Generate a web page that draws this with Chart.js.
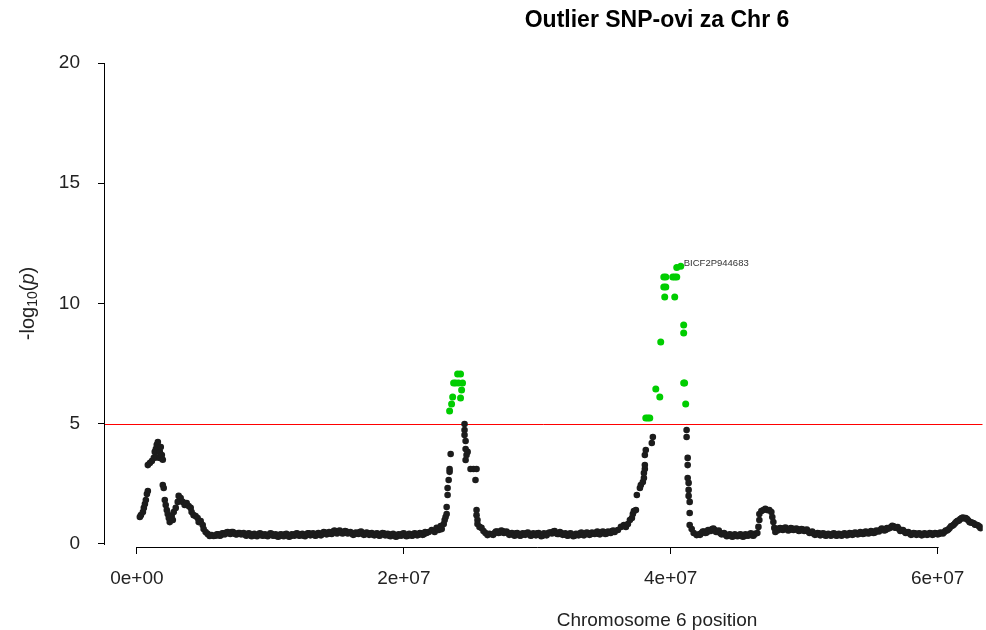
<!DOCTYPE html>
<html>
<head>
<meta charset="utf-8">
<title>Outlier SNP-ovi za Chr 6</title>
<script src="https://cdn.jsdelivr.net/npm/chart.js@4.4.1/dist/chart.umd.min.js"></script>
<style>
  html, body { margin: 0; padding: 0; background: #fff; }
  #wrap { width: 986px; height: 630px; }
</style>
</head>
<body>
<div id="wrap"><canvas id="manhattan" width="986" height="630"></canvas></div>
<script>
// positions in Mb along chromosome 6, values are -log10(p)
const blackPos = [
  0.22, 0.30, 0.45, 0.52, 0.60, 0.67, 0.75, 0.82, 0.82, 0.97,
  1.12, 1.27, 1.34, 1.42, 1.49, 1.49, 1.57, 1.64, 1.72, 1.72,
  1.79, 1.87, 1.94, 1.94, 2.01, 2.09, 2.16, 2.24, 2.31, 2.39,
  2.46, 2.54, 2.61, 2.69, 2.76, 2.91, 3.06, 3.13, 3.28, 3.43,
  3.58, 3.73, 3.88, 4.03, 4.10, 4.25, 4.40, 4.55, 4.63, 4.78,
  4.93, 5.00, 5.15, 5.30, 5.45, 5.60, 5.75,
  5.9, 6.1, 6.3, 6.5, 6.7, 6.9, 7.1, 7.3, 7.5, 7.7,
  7.9, 8.1, 8.3, 8.5, 8.7, 8.9, 9.1, 9.3, 9.5, 9.7,
  9.9, 10.1, 10.3, 10.5, 10.7, 10.9, 11.1, 11.3, 11.5, 11.7,
  11.9, 12.1, 12.3, 12.5, 12.7, 12.9, 13.1, 13.3, 13.5, 13.7,
  13.9, 14.1, 14.3, 14.5, 14.7, 14.9, 15.1, 15.3, 15.5, 15.7,
  15.9, 16.1, 16.3, 16.5, 16.7, 16.9, 17.1, 17.3, 17.5, 17.7,
  17.9, 18.1, 18.3, 18.5, 18.7, 18.9, 19.1, 19.3, 19.5, 19.7,
  19.9, 20.1, 20.3, 20.5, 20.7, 20.9, 21.1, 21.3, 21.5, 21.7,
  21.87, 22.09, 22.31, 22.46, 22.61, 22.76, 22.84, 22.99, 23.06, 23.13,
  23.21, 23.21, 23.28, 23.28, 23.36, 23.43, 23.43, 23.51, 24.55, 24.55,
  24.55, 24.63, 24.63, 24.63, 24.70, 24.78, 25.00, 25.22, 25.37, 25.45,
  25.45, 25.45, 25.52, 25.52, 25.67, 25.82, 25.97, 26.12, 26.27, 26.42,
  26.6, 26.8, 27.0, 27.2, 27.4, 27.6, 27.8, 28.0, 28.2, 28.4,
  28.6, 28.8, 29.0, 29.2, 29.4, 29.6, 29.8, 30.0, 30.2, 30.4,
  30.6, 30.8, 31.0, 31.2, 31.4, 31.6, 31.8, 32.0, 32.2, 32.4,
  32.6, 32.8, 33.0, 33.2, 33.4, 33.6, 33.8, 34.0, 34.2, 34.4,
  34.6, 34.8, 35.0, 35.2, 35.4, 35.6, 35.8,
  36.04, 36.27, 36.49, 36.64, 36.79, 36.94, 37.09, 37.16, 37.24, 37.39,
  37.46, 37.69, 37.76, 37.91, 37.99, 37.99, 38.06, 38.06, 38.06, 38.13,
  38.58, 38.66, 41.19, 41.19, 41.27, 41.27, 41.27, 41.34, 41.34, 41.34,
  41.42, 41.42, 41.42, 41.57, 41.72, 41.94,
  42.1, 42.3, 42.5, 42.7, 42.9, 43.1, 43.3, 43.5, 43.7, 43.9,
  44.1, 44.3, 44.5, 44.7, 44.9, 45.1, 45.3, 45.5, 45.7, 45.9,
  46.1, 46.3,
  46.49, 46.57, 46.64, 46.64, 46.79, 46.94, 47.09, 47.24, 47.39, 47.54,
  47.61, 47.69, 47.76, 47.84,
  47.9, 48.1, 48.3, 48.5, 48.7, 48.9, 49.1, 49.3, 49.5, 49.7,
  49.9, 50.1, 50.3, 50.5, 50.7, 50.9, 51.1, 51.3, 51.5, 51.7,
  51.9, 52.1, 52.3, 52.5, 52.7, 52.9, 53.1, 53.3, 53.5, 53.7,
  53.9, 54.1, 54.3, 54.5, 54.7, 54.9, 55.1, 55.3, 55.5, 55.7,
  55.9, 56.1, 56.3, 56.5, 56.7, 56.9, 57.1, 57.3, 57.5, 57.7,
  57.9, 58.1, 58.3, 58.5, 58.7, 58.9, 59.1, 59.3, 59.5, 59.7,
  59.9, 60.1, 60.3, 60.5, 60.7, 60.9, 61.1, 61.3, 61.5, 61.7,
  61.9, 62.1, 62.3, 62.5, 62.7, 62.9, 63.1, 63.3,
  // in-between SNPs on the flat stretches
  6.0, 6.2, 6.4, 6.6, 6.8, 7.0, 7.2, 7.4, 7.6, 7.8,
  8.0, 8.2, 8.4, 8.6, 8.8, 9.0, 9.2, 9.4, 9.6, 9.8,
  10.0, 10.2, 10.4, 10.6, 10.8, 11.0, 11.2, 11.4, 11.6, 11.8,
  12.0, 12.2, 12.4, 12.6, 12.8, 13.0, 13.2, 13.4, 13.6, 13.8,
  14.0, 14.2, 14.4, 14.6, 14.8, 15.0, 15.2, 15.4, 15.6, 15.8,
  16.0, 16.2, 16.4, 16.6, 16.8, 17.0, 17.2, 17.4, 17.6, 17.8,
  18.0, 18.2, 18.4, 18.6, 18.8, 19.0, 19.2, 19.4, 19.6, 19.8,
  20.0, 20.2, 20.4, 20.6, 20.8, 21.0, 21.2, 21.4, 21.6,
  26.7, 26.9, 27.1, 27.3, 27.5, 27.7, 27.9, 28.1, 28.3, 28.5,
  28.7, 28.9, 29.1, 29.3, 29.5, 29.7, 29.9, 30.1, 30.3, 30.5,
  30.7, 30.9, 31.1, 31.3, 31.5, 31.7, 31.9, 32.1, 32.3, 32.5,
  32.7, 32.9, 33.1, 33.3, 33.5, 33.7, 33.9, 34.1, 34.3, 34.5,
  34.7, 34.9, 35.1, 35.3, 35.5, 35.7,
  42.2, 42.4, 42.6, 42.8, 43.0, 43.2, 43.4, 43.6, 43.8, 44.0,
  44.2, 44.4, 44.6, 44.8, 45.0, 45.2, 45.4, 45.6, 45.8, 46.0,
  46.2,
  48.0, 48.2, 48.4, 48.6, 48.8, 49.0, 49.2, 49.4, 49.6, 49.8,
  50.0, 50.2, 50.4, 50.6, 50.8, 51.0, 51.2, 51.4, 51.6, 51.8,
  52.0, 52.2, 52.4, 52.6, 52.8, 53.0, 53.2, 53.4, 53.6, 53.8,
  54.0, 54.2, 54.4, 54.6, 54.8, 55.0, 55.2, 55.4, 55.6, 55.8,
  56.0, 56.2, 56.4, 56.6, 56.8, 57.0, 57.2, 57.4, 57.6, 57.8,
  58.0, 58.2, 58.4, 58.6, 58.8, 59.0, 59.2, 59.4, 59.6, 59.8,
  60.0, 60.2, 60.4, 60.6, 60.8, 61.0, 61.2, 61.4, 61.6, 61.8,
  62.0, 62.2, 62.4, 62.6, 62.8, 63.0, 63.2
];
const blackLogP = [
  1.12, 1.20, 1.33, 1.50, 1.66, 1.83, 2.08, 2.20, 3.28, 3.37,
  3.45, 3.58, 3.83, 3.95, 4.12, 3.60, 4.24, 4.00, 3.83, 3.58,
  4.03, 3.70, 3.50, 2.45, 2.33, 1.83, 1.62, 1.41, 1.25, 1.08,
  0.91, 1.00, 1.16, 1.00, 1.33, 1.50, 1.75, 2.00, 1.91, 1.75,
  1.62, 1.70, 1.58, 1.50, 1.33, 1.20, 1.16, 1.08, 0.91, 0.95,
  0.79, 0.62, 0.50, 0.42, 0.33, 0.37, 0.33,
  0.34, 0.40, 0.36, 0.44, 0.48, 0.46, 0.50, 0.44, 0.40, 0.46,
  0.42, 0.38, 0.42, 0.36, 0.40, 0.34, 0.38, 0.42, 0.36, 0.34,
  0.38, 0.42, 0.36, 0.32, 0.38, 0.34, 0.40, 0.36, 0.32, 0.38,
  0.42, 0.36, 0.40, 0.34, 0.38, 0.44, 0.40, 0.36, 0.42, 0.38,
  0.44, 0.48, 0.42, 0.46, 0.52, 0.48, 0.54, 0.50, 0.46, 0.52,
  0.48, 0.44, 0.40, 0.46, 0.50, 0.44, 0.40, 0.46, 0.42, 0.38,
  0.42, 0.36, 0.40, 0.44, 0.38, 0.34, 0.40, 0.36, 0.32, 0.38,
  0.42, 0.36, 0.34, 0.40, 0.36, 0.42, 0.38, 0.44, 0.40, 0.46,
  0.50, 0.58, 0.50, 0.67, 0.58, 0.75, 0.62, 0.83, 1.00, 1.12,
  1.25, 1.54, 2.04, 2.33, 2.66, 3.00, 3.12, 3.74, 4.99, 4.74,
  4.53, 4.28, 3.95, 3.49, 3.70, 3.83, 3.12, 3.12, 2.66, 3.12,
  1.41, 1.20, 1.00, 0.83, 0.71, 0.67, 0.54, 0.46, 0.37, 0.42,
  0.40, 0.46, 0.52, 0.48, 0.54, 0.50, 0.46, 0.42, 0.38, 0.44,
  0.40, 0.36, 0.42, 0.46, 0.40, 0.36, 0.40, 0.44, 0.38, 0.34,
  0.40, 0.44, 0.48, 0.52, 0.46, 0.42, 0.46, 0.40, 0.36, 0.42,
  0.38, 0.34, 0.40, 0.44, 0.38, 0.42, 0.46, 0.40, 0.44, 0.48,
  0.42, 0.46, 0.50, 0.44, 0.48, 0.54, 0.50,
  0.58, 0.71, 0.79, 0.71, 0.83, 1.00, 1.08, 1.25, 1.37, 1.41,
  2.04, 2.33, 2.45, 2.58, 2.74, 2.95, 3.12, 3.28, 3.70, 3.91,
  4.20, 4.45, 4.74, 4.45, 3.58, 3.28, 2.74, 2.54, 2.25, 2.00,
  1.75, 1.29, 0.79, 0.62, 0.46, 0.37,
  0.40, 0.46, 0.52, 0.48, 0.56, 0.62, 0.58, 0.52, 0.46, 0.42,
  0.38, 0.34, 0.38, 0.32, 0.36, 0.34, 0.38, 0.32, 0.36, 0.40,
  0.36, 0.42,
  0.46, 0.71, 1.00, 1.25, 1.37, 1.41, 1.46, 1.41, 1.41, 1.33,
  1.12, 0.91, 0.67, 0.50,
  0.58, 0.64, 0.60, 0.66, 0.62, 0.58, 0.64, 0.60, 0.62, 0.56,
  0.60, 0.58, 0.52, 0.48, 0.44, 0.40, 0.44, 0.38, 0.42, 0.36,
  0.40, 0.38, 0.42, 0.36, 0.40, 0.38, 0.42, 0.38, 0.44, 0.40,
  0.46, 0.42, 0.48, 0.44, 0.50, 0.46, 0.52, 0.48, 0.54, 0.58,
  0.62, 0.58, 0.64, 0.70, 0.74, 0.68, 0.62, 0.56, 0.52, 0.48,
  0.44, 0.40, 0.44, 0.40, 0.42, 0.38, 0.42, 0.40, 0.44, 0.40,
  0.44, 0.42, 0.46, 0.50, 0.56, 0.66, 0.76, 0.86, 0.96, 1.04,
  1.10, 1.08, 0.98, 0.90, 0.86, 0.80, 0.74, 0.68,
  0.40, 0.34, 0.44, 0.40, 0.50, 0.42, 0.50, 0.40, 0.46, 0.40,
  0.46, 0.34, 0.44, 0.32, 0.42, 0.32, 0.44, 0.34, 0.40, 0.32,
  0.44, 0.34, 0.40, 0.30, 0.40, 0.32, 0.42, 0.30, 0.40, 0.34,
  0.44, 0.34, 0.42, 0.32, 0.44, 0.36, 0.44, 0.34, 0.46, 0.36,
  0.50, 0.40, 0.50, 0.42, 0.56, 0.44, 0.56, 0.44, 0.54, 0.44,
  0.50, 0.38, 0.48, 0.42, 0.52, 0.38, 0.48, 0.38, 0.46, 0.36,
  0.44, 0.34, 0.46, 0.36, 0.42, 0.32, 0.42, 0.30, 0.40, 0.34,
  0.44, 0.32, 0.42, 0.34, 0.44, 0.36, 0.46, 0.38, 0.50,
  0.38, 0.52, 0.46, 0.56, 0.46, 0.52, 0.38, 0.46, 0.34, 0.46,
  0.34, 0.44, 0.38, 0.48, 0.34, 0.44, 0.36, 0.46, 0.32, 0.44,
  0.36, 0.48, 0.44, 0.54, 0.42, 0.50, 0.38, 0.44, 0.34, 0.44,
  0.32, 0.42, 0.36, 0.48, 0.36, 0.48, 0.38, 0.48, 0.42, 0.52,
  0.40, 0.52, 0.42, 0.52, 0.46, 0.56,
  0.38, 0.52, 0.46, 0.58, 0.54, 0.64, 0.50, 0.56, 0.40, 0.46,
  0.32, 0.40, 0.30, 0.40, 0.32, 0.40, 0.30, 0.40, 0.34, 0.44,
  0.34,
  0.56, 0.66, 0.58, 0.68, 0.56, 0.66, 0.58, 0.64, 0.54, 0.62,
  0.54, 0.60, 0.46, 0.52, 0.38, 0.46, 0.36, 0.44, 0.34, 0.42,
  0.34, 0.44, 0.34, 0.42, 0.34, 0.44, 0.36, 0.46, 0.38, 0.48,
  0.40, 0.50, 0.42, 0.52, 0.44, 0.54, 0.46, 0.56, 0.52, 0.64,
  0.56, 0.66, 0.66, 0.76, 0.68, 0.70, 0.54, 0.58, 0.46, 0.50,
  0.38, 0.46, 0.38, 0.44, 0.36, 0.44, 0.38, 0.46, 0.38, 0.46,
  0.40, 0.48, 0.44, 0.56, 0.60, 0.74, 0.80, 0.92, 0.98, 1.08,
  1.06, 1.04, 0.90, 0.88, 0.80, 0.78, 0.66
];

// SNPs above the suggestive line
const greenPos = [
  23.43, 23.58, 23.66, 23.73, 23.88, 24.03, 24.10, 24.25, 24.25, 24.33, 24.40,
  38.13, 38.28, 38.43, 38.88, 39.18, 39.25, 39.48, 39.48, 39.55, 39.63,
  39.63, 40.15, 40.30, 40.30, 40.45, 40.45, 40.75, 40.97, 40.97, 40.97,
  41.04, 41.12
];
const greenLogP = [
  5.53, 5.82, 6.11, 6.69, 6.69, 7.07, 6.69, 7.07, 6.07, 6.40, 6.69,
  5.24, 5.24, 5.24, 6.44, 6.11, 8.40, 11.10, 10.69, 10.27, 11.10,
  10.69, 11.10, 11.10, 10.27, 11.10, 11.50, 11.55, 9.11, 8.77, 6.69,
  6.69, 5.82
];

const topSnp = "BICF2P944683";
const suggestiveLine = 5;

const xTickValues = [0, 20, 40, 60];
const xTickLabels = ["0e+00", "2e+07", "4e+07", "6e+07"];
const yTickValues = [0, 5, 10, 15, 20];

const FONT = '"Liberation Sans", Arial, Helvetica, sans-serif';

const toPoints = (xs, ys) => xs.map((x, i) => ({ x: x, y: ys[i] }));

// R-style frame: axis lines only between first and last tick, threshold, titles, label
const rFrame = {
  id: 'rFrame',
  beforeDatasetsDraw(chart) {
    const { ctx, chartArea, scales } = chart;
    const x = scales.x, y = scales.y;
    ctx.save();
    const ys = Math.round(y.getPixelForValue(suggestiveLine)) + 0.5;
    ctx.strokeStyle = '#ff0000';
    ctx.lineWidth = 1;
    ctx.beginPath();
    ctx.moveTo(chartArea.left, ys);
    ctx.lineTo(chartArea.right, ys);
    ctx.stroke();

    ctx.strokeStyle = '#000';
    const xb = Math.round(chartArea.bottom) + 0.5;
    ctx.beginPath();
    ctx.moveTo(x.getPixelForValue(xTickValues[0]), xb);
    ctx.lineTo(x.getPixelForValue(xTickValues[xTickValues.length - 1]) + 1, xb);
    const yl = Math.round(chartArea.left) - 0.5;
    ctx.moveTo(yl, y.getPixelForValue(yTickValues[0]) + 1);
    ctx.lineTo(yl, y.getPixelForValue(yTickValues[yTickValues.length - 1]));
    ctx.stroke();
    ctx.restore();
  },
  afterDatasetsDraw(chart) {
    const { ctx } = chart;
    let top = 0;
    greenLogP.forEach((v, i) => { if (v > greenLogP[top]) top = i; });
    const el = chart.getDatasetMeta(0).data[top];
    ctx.save();
    ctx.font = `9.5px ${FONT}`;
    ctx.fillStyle = '#333';
    ctx.textAlign = 'left';
    ctx.textBaseline = 'middle';
    ctx.fillText(topSnp, el.x + 3, el.y - 3);
    ctx.restore();
  },
  afterDraw(chart) {
    const { ctx, scales } = chart;
    const y = scales.y;
    ctx.save();
    ctx.fillStyle = '#000';
    ctx.textAlign = 'center';
    ctx.textBaseline = 'middle';
    ctx.font = `bold 23px ${FONT}`;
    ctx.fillText('Outlier SNP-ovi za Chr 6', 657, 21);
    ctx.fillStyle = '#222';
    ctx.font = `19px ${FONT}`;
    ctx.fillText('Chromosome 6 position', 657, 621);

    // -log10(p) with subscript and italic p
    const parts = [
      ['-log', `20px ${FONT}`, 0],
      ['10', `14px ${FONT}`, 5],
      ['(', `20px ${FONT}`, 0],
      ['p', `italic 20px ${FONT}`, 0],
      [')', `20px ${FONT}`, 0]
    ];
    let total = 0;
    parts.forEach(p => { ctx.font = p[1]; total += ctx.measureText(p[0]).width; });
    const cy = (y.getPixelForValue(yTickValues[0]) + y.getPixelForValue(yTickValues[yTickValues.length - 1])) / 2;
    ctx.translate(28, cy);
    ctx.rotate(-Math.PI / 2);
    ctx.textAlign = 'left';
    let cx = -total / 2;
    parts.forEach(p => {
      ctx.font = p[1];
      ctx.fillText(p[0], cx, p[2]);
      cx += ctx.measureText(p[0]).width;
    });
    ctx.restore();
  }
};

const tickFont = { family: FONT, size: 19 };

new Chart(document.getElementById('manhattan'), {
  type: 'scatter',
  data: {
    datasets: [
      {
        label: 'outlier',
        data: toPoints(greenPos, greenLogP),
        backgroundColor: '#00cd00',
        pointRadius: 3.5,
        pointHoverRadius: 3.5,
        pointBorderWidth: 0
      },
      {
        label: 'chr6',
        data: toPoints(blackPos, blackLogP),
        backgroundColor: '#1c1c1c',
        pointRadius: 3.3,
        pointHoverRadius: 3.3,
        pointBorderWidth: 0
      }
    ]
  },
  options: {
    responsive: false,
    animation: false,
    events: [],
    layout: { padding: { top: 63, right: 0, bottom: 0, left: 0 } },
    plugins: {
      legend: { display: false },
      title: { display: false },
      tooltip: { enabled: false }
    },
    scales: {
      x: {
        type: 'linear',
        min: -2.39,
        max: 63.36,
        afterBuildTicks: s => { s.ticks = xTickValues.map(v => ({ value: v })); },
        afterFit: s => { s.height = 83; },
        ticks: {
          autoSkip: false,
          maxRotation: 0,
          color: '#222',
          font: tickFont,
          padding: 13,
          callback: (v, i) => xTickLabels[i]
        },
        grid: { drawOnChartArea: false, tickLength: 7, color: '#000' },
        border: { display: false }
      },
      y: {
        min: -0.125,
        max: 20,
        afterBuildTicks: s => { s.ticks = yTickValues.map(v => ({ value: v })); },
        afterFit: s => { s.width = 105; },
        ticks: {
          autoSkip: false,
          color: '#222',
          font: tickFont,
          padding: 18,
          callback: v => String(v)
        },
        grid: { drawOnChartArea: false, tickLength: 7, color: '#000' },
        border: { display: false }
      }
    }
  },
  plugins: [rFrame]
});
</script>
</body>
</html>
